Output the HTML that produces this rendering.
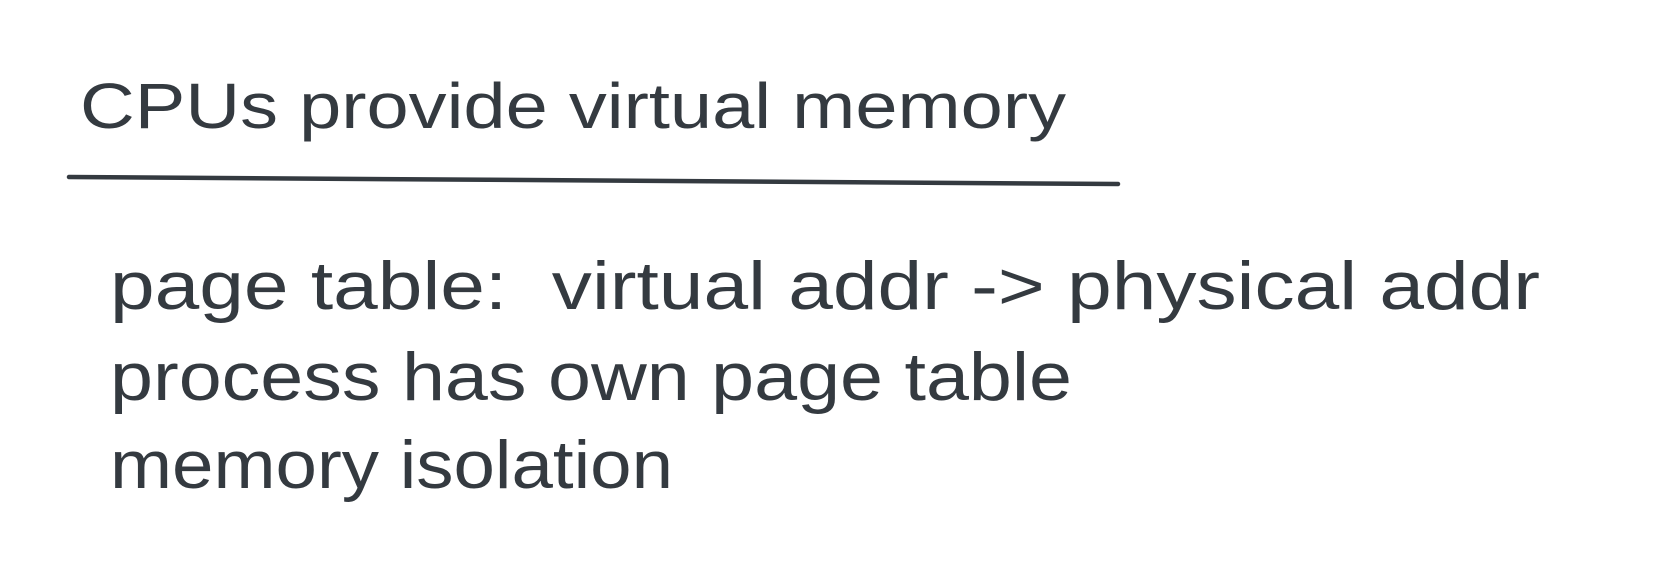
<!DOCTYPE html>
<html><head><meta charset="utf-8"><style>
html,body{margin:0;padding:0;background:#fff;width:1663px;height:585px;overflow:hidden}
svg{display:block}
text{font-family:"Liberation Sans",sans-serif;fill:#343a40}
</style></head><body>
<svg width="1663" height="585" viewBox="0 0 1663 585">
<text x="80" y="128" font-size="64" textLength="986" lengthAdjust="spacingAndGlyphs">CPUs provide virtual memory</text>
<path d="M69 177 L1118 184" stroke="#343a40" stroke-width="4.5" stroke-linecap="round" fill="none"/>
<text x="110" y="309" font-size="68" textLength="1430" lengthAdjust="spacingAndGlyphs" xml:space="preserve">page table:  virtual addr -&gt; physical addr</text>
<text x="110" y="400" font-size="68" textLength="962" lengthAdjust="spacingAndGlyphs">process has own page table</text>
<text x="110" y="488" font-size="68" textLength="563" lengthAdjust="spacingAndGlyphs">memory isolation</text>
</svg>
</body></html>
